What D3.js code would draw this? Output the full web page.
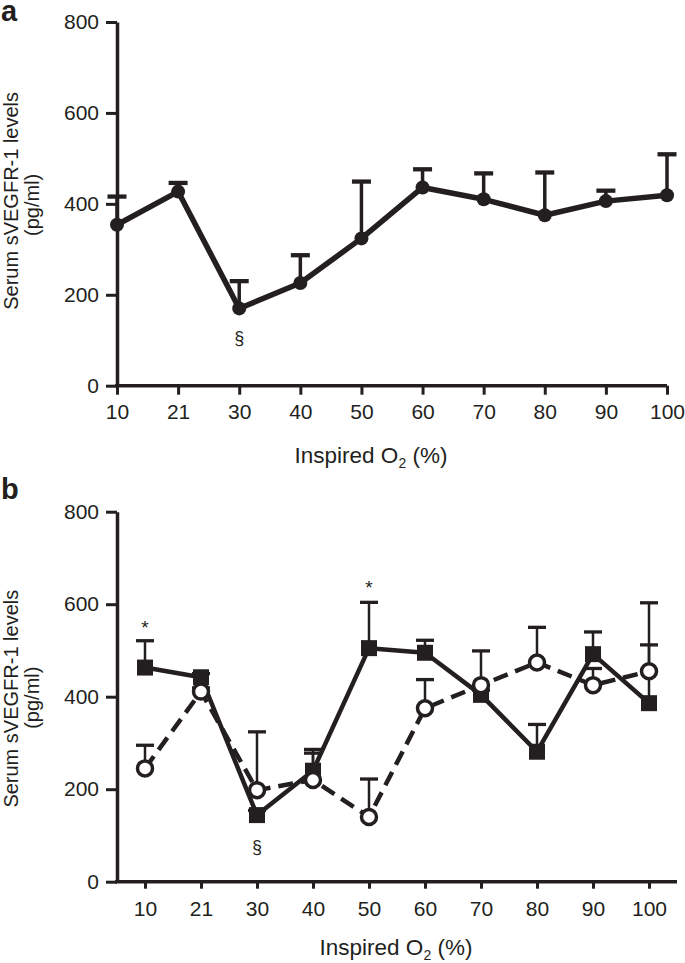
<!DOCTYPE html>
<html><head><meta charset="utf-8">
<script src="https://cdn.jsdelivr.net/npm/d3@7"></script>
<style>
html,body{margin:0;padding:0;background:#fff;}
svg{display:block;font-family:"Liberation Sans",Arial,sans-serif;}
</style></head>
<body>
<svg id="chart" width="685" height="963"></svg>
<script>
const categories = ["10","21","30","40","50","60","70","80","90","100"];
const yTicks = [0,200,400,600,800];
// Panel a
const aMean = [354, 427, 170, 226, 324, 436, 410, 375, 406, 419];
const aSem  = [62, 19, 60, 61, 125, 40, 57, 94, 23, 90];
// Panel b
const bSquare    = [463, 442, 144, 240, 505, 495, 404, 281, 492, 386];
const bSquareSem = [58, 8, 10, 46, 99, 27, 10, 59, 48, 126];
const bCircle    = [245, 411, 198, 220, 140, 375, 425, 474, 425, 455];
const bCircleSem = [50, 8, 126, 58, 82, 62, 74, 76, 36, 148];

const INK = "#231f20";
const FONT = "Liberation Sans, Arial, sans-serif";
const svg = d3.select("#chart");

function panel(cfg){
  const g = svg.append("g");
  const x = d3.scalePoint().domain(categories).range(cfg.xr).padding(cfg.pad);
  const y = d3.scaleLinear().domain([0,800]).range(cfg.yr);

  // y axis
  const ya = g.append("g").attr("transform",`translate(${cfg.xr[0]},0)`)
    .call(d3.axisLeft(y).tickValues(yTicks).tickSize(11).tickSizeOuter(0).tickPadding(7));
  ya.select(".domain").attr("stroke",INK).attr("stroke-width",3.5);
  ya.selectAll(".tick line").attr("stroke",INK).attr("stroke-width",3);
  ya.selectAll(".tick text").attr("fill",INK).attr("font-size",21).attr("font-family",FONT);

  // x axis
  const xa = g.append("g").attr("transform",`translate(0,${cfg.yr[0]})`)
    .call(d3.axisBottom(x).tickSize(cfg.xtick).tickSizeOuter(0).tickPadding(cfg.xpad));
  xa.select(".domain").attr("stroke",INK).attr("stroke-width",3.5)
    .attr("d",`M${cfg.xr[0]-2},0H${cfg.xr[1]}`);
  xa.selectAll(".tick line").attr("stroke",INK).attr("stroke-width",3);
  xa.selectAll(".tick text").attr("fill",INK).attr("font-size",21).attr("font-family",FONT);

  // titles
  const t = g.append("text").attr("x",cfg.xtitle[0]).attr("y",cfg.xtitle[1])
    .attr("text-anchor","middle").attr("font-size",22.5).attr("fill",INK);
  t.append("tspan").text("Inspired O");
  t.append("tspan").text("2").attr("font-size",14).attr("dy",5);
  t.append("tspan").text(" (%)").attr("dy",-5);

  const cy = (cfg.yr[0]+cfg.yr[1])/2;
  g.append("text").attr("transform",`translate(18,${cy+cfg.ytOff}) rotate(-90)`)
    .attr("text-anchor","middle").attr("font-size",20).attr("fill",INK).text("Serum sVEGFR-1 levels");
  g.append("text").attr("transform",`translate(39,${cy+1}) rotate(-90)`)
    .attr("text-anchor","middle").attr("font-size",20).attr("fill",INK).text("(pg/ml)");

  svg.append("text").attr("x",1).attr("y",cfg.letterY).attr("font-size",29).attr("font-weight","bold")
    .attr("fill",INK).text(cfg.letter);
  return {g,x,y};
}

function errBars(g,x,y,vals,sems,sw,cw){
  const eg = g.append("g");
  categories.forEach((c,i)=>{
    const cx = x(c), y0 = y(vals[i]), y1 = y(vals[i]+sems[i]);
    eg.append("line").attr("x1",cx).attr("x2",cx).attr("y1",y0).attr("y2",y1)
      .attr("stroke",INK).attr("stroke-width",sw);
    eg.append("line").attr("x1",cx-cw/2).attr("x2",cx+cw/2).attr("y1",y1).attr("y2",y1)
      .attr("stroke",INK).attr("stroke-width",sw+0.8);
  });
}

// ---------- Panel a ----------
{
  const {g,x,y} = panel({xr:[117,667], pad:0, yr:[385.7,22], xtick:9, xpad:9,
    xtitle:[371,463], letter:"a", letterY:21, ytOff:-3});
  errBars(g,x,y,aMean,aSem,3.5,19);
  const line = d3.line().x((d,i)=>x(categories[i])).y(d=>y(d));
  g.append("path").datum(aMean).attr("d",line).attr("fill","none")
    .attr("stroke",INK).attr("stroke-width",5.5).attr("stroke-linejoin","round");
  g.selectAll("circle.a").data(aMean).enter().append("circle")
    .attr("cx",(d,i)=>x(categories[i])).attr("cy",d=>y(d)).attr("r",7).attr("fill",INK);
  g.append("text").attr("x",x("30")).attr("y",y(170)+36).attr("text-anchor","middle")
    .attr("font-size",18).attr("fill",INK).text("§");
}

// ---------- Panel b ----------
{
  const {g,x,y} = panel({xr:[117,677], pad:0.5, yr:[881.7,511.7], xtick:7, xpad:12,
    xtitle:[396,955], letter:"b", letterY:499, ytOff:2});
  errBars(g,x,y,bSquare,bSquareSem,2.5,18);
  errBars(g,x,y,bCircle,bCircleSem,2.5,18);
  const line = d3.line().x((d,i)=>x(categories[i])).y(d=>y(d));
  g.append("path").datum(bSquare).attr("d",line).attr("fill","none")
    .attr("stroke",INK).attr("stroke-width",4.5).attr("stroke-linejoin","round");
  g.selectAll("rect.sq").data(bSquare).enter().append("rect")
    .attr("x",(d,i)=>x(categories[i])-8).attr("y",d=>y(d)-8).attr("width",16).attr("height",16).attr("fill",INK);
  g.append("path").datum(bCircle).attr("d",line).attr("fill","none")
    .attr("stroke",INK).attr("stroke-width",4.5).attr("stroke-dasharray","15,8");
  g.selectAll("circle.ci").data(bCircle).enter().append("circle")
    .attr("cx",(d,i)=>x(categories[i])).attr("cy",d=>y(d)).attr("r",7.5)
    .attr("fill","#fff").attr("stroke",INK).attr("stroke-width",3.5);
  g.append("text").attr("x",x("30")).attr("y",853).attr("text-anchor","middle")
    .attr("font-size",18).attr("fill",INK).text("§");
  g.append("text").attr("x",x("10")).attr("y",y(521)-7).attr("text-anchor","middle")
    .attr("font-size",19).attr("fill",INK).text("*");
  g.append("text").attr("x",x("50")).attr("y",y(604)-8).attr("text-anchor","middle")
    .attr("font-size",19).attr("fill",INK).text("*");
}
</script>
</body></html>
